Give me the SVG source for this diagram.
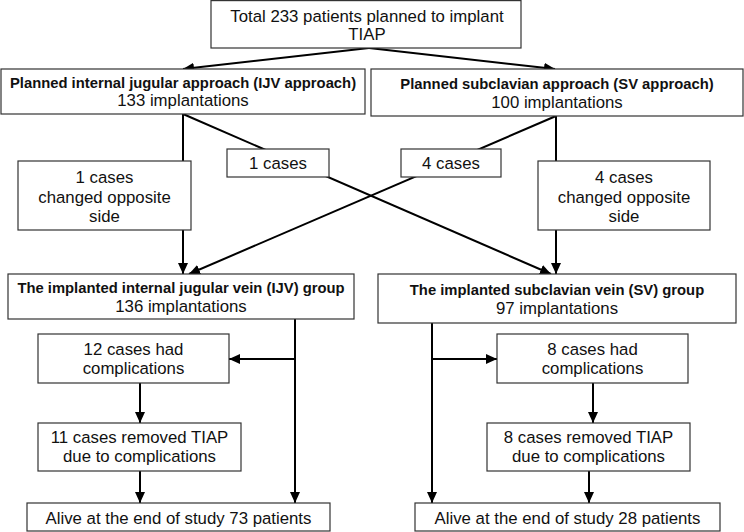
<svg xmlns="http://www.w3.org/2000/svg" width="744" height="532" viewBox="0 0 744 532">
<defs>
<marker id="ah" markerUnits="userSpaceOnUse" markerWidth="12" markerHeight="12" refX="11" refY="5" orient="auto">
<path d="M0,0 L11,5 L0,10 z" fill="#000"/>
</marker>
<style>
.box{fill:#fff;stroke:#333;stroke-width:1.2}
.t{font-family:"Liberation Sans",Arial,sans-serif;font-size:16.8px;fill:#111;text-anchor:middle}
.b{font-family:"Liberation Sans",Arial,sans-serif;font-size:14.8px;font-weight:bold;fill:#111;text-anchor:middle}
.c{fill:none;stroke:#000;stroke-width:2}
.a{fill:none;stroke:#000;stroke-width:2;marker-end:url(#ah)}
</style>
</defs>
<rect width="744" height="532" fill="#fff"/>
<g id="connectors">
<line class="a" x1="369" y1="48" x2="183" y2="69"/>
<line class="a" x1="369" y1="48" x2="555" y2="69"/>
<line class="c" x1="183" y1="114" x2="183" y2="161"/>
<line class="a" x1="183" y1="230" x2="183" y2="274"/>
<line class="a" x1="183" y1="114" x2="551" y2="274"/>
<line class="c" x1="556" y1="116" x2="556" y2="161"/>
<line class="a" x1="556" y1="230" x2="556" y2="274"/>
<line class="a" x1="556" y1="116" x2="189" y2="274"/>
<line class="a" x1="295" y1="319" x2="295" y2="503"/>
<line class="a" x1="295" y1="359" x2="229" y2="359"/>
<line class="a" x1="140" y1="383" x2="140" y2="423"/>
<line class="a" x1="140" y1="471" x2="140" y2="503"/>
<line class="a" x1="432" y1="323" x2="432" y2="503"/>
<line class="a" x1="432" y1="359" x2="497" y2="359"/>
<line class="a" x1="593" y1="383" x2="593" y2="423"/>
<line class="a" x1="589" y1="471" x2="589" y2="503"/>
</g>
<g id="total">
<rect class="box" x="211" y="0.6" width="310" height="47.4"/>
<text class="t" x="367" y="22">Total 233 patients planned to implant</text>
<text class="t" x="367" y="40">TIAP</text>
</g>
<g id="ijv-approach">
<rect class="box" x="1" y="69" width="364" height="45"/>
<text class="b" x="183" y="88">Planned internal jugular approach (IJV approach)</text>
<text class="t" x="183" y="106">133 implantations</text>
</g>
<g id="sv-approach">
<rect class="box" x="371" y="69" width="372" height="47"/>
<text class="b" x="557" y="89">Planned subclavian approach (SV approach)</text>
<text class="t" x="557" y="108">100 implantations</text>
</g>
<g id="ijv-changed">
<rect class="box" x="18" y="161" width="173" height="69"/>
<text class="t" x="104.5" y="183">1 cases</text>
<text class="t" x="104.5" y="202.5">changed opposite</text>
<text class="t" x="104.5" y="222">side</text>
</g>
<g id="ijv-cross">
<rect class="box" x="227" y="149" width="102" height="28"/>
<text class="t" x="278" y="169">1 cases</text>
</g>
<g id="sv-cross">
<rect class="box" x="401" y="149" width="100" height="28"/>
<text class="t" x="451" y="169">4 cases</text>
</g>
<g id="sv-changed">
<rect class="box" x="538" y="161" width="172" height="69"/>
<text class="t" x="624" y="183">4 cases</text>
<text class="t" x="624" y="202.5">changed opposite</text>
<text class="t" x="624" y="222">side</text>
</g>
<g id="ijv-group">
<rect class="box" x="8" y="274" width="346" height="45"/>
<text class="b" x="181" y="293">The implanted internal jugular vein (IJV) group</text>
<text class="t" x="181" y="312">136 implantations</text>
</g>
<g id="sv-group">
<rect class="box" x="378" y="274" width="358" height="49"/>
<text class="b" x="557" y="295">The implanted subclavian vein (SV) group</text>
<text class="t" x="557" y="314">97 implantations</text>
</g>
<g id="ijv-compl">
<rect class="box" x="38" y="334" width="191" height="49"/>
<text class="t" x="133.5" y="355">12 cases had</text>
<text class="t" x="133.5" y="374">complications</text>
</g>
<g id="ijv-removed">
<rect class="box" x="38" y="423" width="203" height="48"/>
<text class="t" x="139.5" y="443">11 cases removed TIAP</text>
<text class="t" x="139.5" y="462">due to complications</text>
</g>
<g id="ijv-alive">
<rect class="box" x="27" y="503" width="303" height="28"/>
<text class="t" x="178.5" y="524">Alive at the end of study 73 patients</text>
</g>
<g id="sv-compl">
<rect class="box" x="497" y="334" width="191" height="49"/>
<text class="t" x="592.5" y="355">8 cases had</text>
<text class="t" x="592.5" y="374">complications</text>
</g>
<g id="sv-removed">
<rect class="box" x="487" y="423" width="203" height="48"/>
<text class="t" x="588.5" y="443">8 cases removed TIAP</text>
<text class="t" x="588.5" y="462">due to complications</text>
</g>
<g id="sv-alive">
<rect class="box" x="415" y="503" width="305" height="28"/>
<text class="t" x="567.5" y="524">Alive at the end of study 28 patients</text>
</g>
</svg>
